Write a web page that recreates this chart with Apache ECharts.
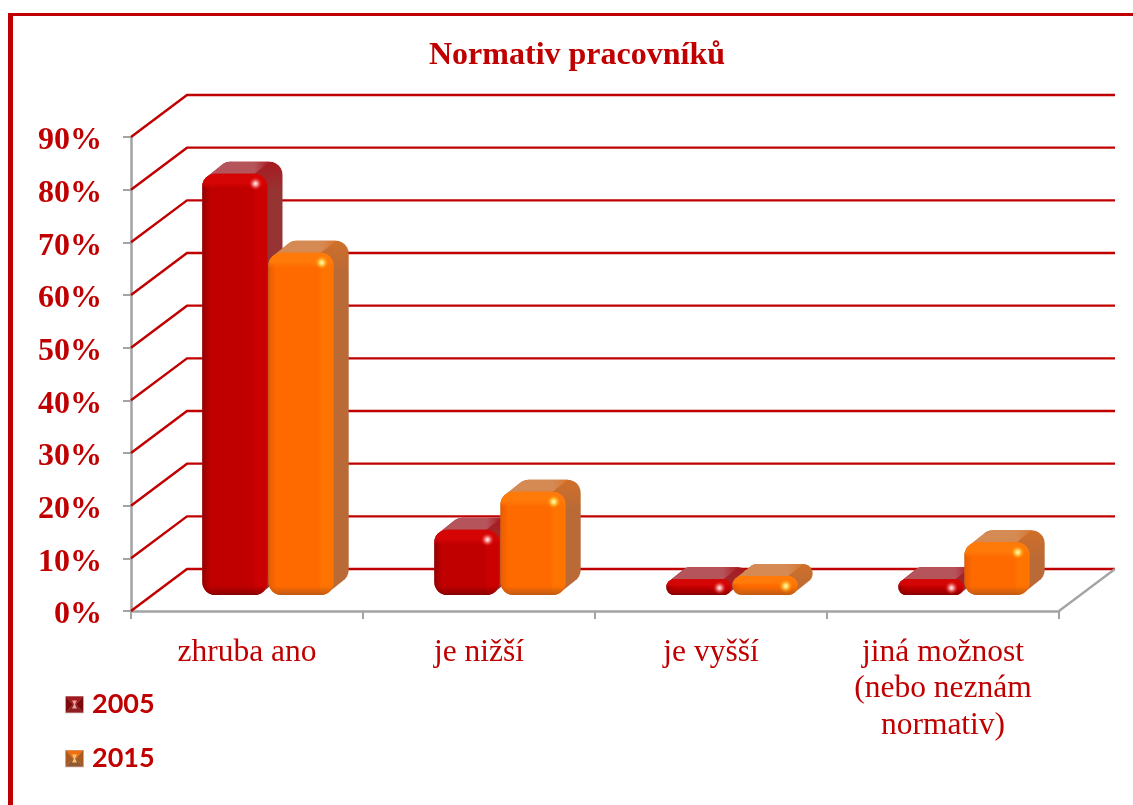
<!DOCTYPE html>
<html lang="cs">
<head>
<meta charset="utf-8">
<title>Normativ pracovníků</title>
<style>html,body{margin:0;padding:0;background:#fff}#chart{width:1133px;height:805px}</style>
<script src="https://cdn.jsdelivr.net/npm/echarts@6/dist/echarts.min.js"></script>
</head>
<body>
<div id="chart"></div>
<script>
const categories = ['zhruba ano', 'je nižší', 'je vyšší', 'jiná možnost\n(nebo neznám\nnormativ)'];
const seriesNames = ['2005', '2015'];
const values2005 = [80, 12.4, 3, 3];
const values2015 = [65, 19.6, 3.6, 10];
const wallTicks = [0, 10, 20, 30, 40, 50, 60, 70, 80, 90];

const RED = '#c00000';
const GREY = '#a3a3a3';
const WALL = [56, -42];
const BAR_SHIFT = [21, -16];
const BAR_DEPTH = [15, -12];
const BAR_FRACTION = 0.281;
const RADIUS = 13;

const palettes = [
  { edge: '#960000', base: '#c00000', rim: '#cb0000', topBand: '#d60505', bottom: '#8a0000',
    top: '#b5545a', topEnd: '#a81c22', side: '#963434', sideTop: '#a81a20', glow: '#ffffff', glowMid: 'rgba(255,170,170,0.8)', glowEnd: 'rgba(220,0,0,0)' },
  { edge: '#e85c00', base: '#ff6a00', rim: '#ff7300', topBand: '#ff7a08', bottom: '#c05a14',
    top: '#d58a54', topEnd: '#d9762f', side: '#ba6a36', sideTop: '#cf6f2a', glow: '#fffbd0', glowMid: 'rgba(255,225,90,0.85)', glowEnd: 'rgba(255,130,0,0)' }
];

function roundedPoints(x, y, w, h, r) {
  const pts = [];
  const corners = [[x + r, y + r, 180], [x + w - r, y + r, 270], [x + w - r, y + h - r, 0], [x + r, y + h - r, 90]];
  corners.forEach(function (c) {
    for (let a = 0; a <= 90; a += 15) {
      const t = (c[2] + a) * Math.PI / 180;
      pts.push([c[0] + r * Math.cos(t), c[1] + r * Math.sin(t)]);
    }
  });
  return pts;
}
function hull(points) {
  const p = points.slice().sort(function (a, b) { return a[0] - b[0] || a[1] - b[1]; });
  const cross = function (o, a, b) { return (a[0] - o[0]) * (b[1] - o[1]) - (a[1] - o[1]) * (b[0] - o[0]); };
  const lo = [], up = [];
  p.forEach(function (q) {
    while (lo.length > 1 && cross(lo[lo.length - 2], lo[lo.length - 1], q) <= 0) lo.pop();
    lo.push(q);
  });
  p.slice().reverse().forEach(function (q) {
    while (up.length > 1 && cross(up[up.length - 2], up[up.length - 1], q) <= 0) up.pop();
    up.push(q);
  });
  return lo.slice(0, -1).concat(up.slice(0, -1));
}
function linear(x, y, x2, y2, stops) {
  return new echarts.graphic.LinearGradient(x, y, x2, y2, stops.map(function (s) { return { offset: s[0], color: s[1] }; }));
}

function barRenderer(seriesIndex) {
  const pal = palettes[seriesIndex];
  return function (params, api) {
    const top = api.coord([api.value(0), api.value(1)]);
    const zero = api.coord([api.value(0), 0]);
    const band = api.size([1, 0])[0];
    const w = band * BAR_FRACTION;
    const x = top[0] + BAR_SHIFT[0] + (seriesIndex === 0 ? -w - 0.5 : 0.5);
    const y = top[1] + BAR_SHIFT[1];
    const h = zero[1] - top[1];
    const r = Math.min(RADIUS, h / 2);
    const dx = BAR_DEPTH[0], dy = BAR_DEPTH[1];
    const front = roundedPoints(x, y, w, h, r);
    const back = front.map(function (p) { return [p[0] + dx, p[1] + dy]; });
    const upperFront = front.filter(function (p) { return p[1] <= y + r && p[0] <= x + w - r; });
    const upperBack = upperFront.map(function (p) { return [p[0] + dx, p[1] + dy]; });
    const bandTop = Math.min(0.35, 9 / h);
    const bandFade = Math.min(0.5, 15 / h);
    const bandBottom = Math.max(0.55, 1 - 9 / h);
    return {
      type: 'group',
      children: [
        { type: 'polygon', shape: { points: hull(front.concat(back)) },
          style: { fill: linear(0, 0, 0, 1, [[0, pal.sideTop], [Math.min(1, 30 / (h + 12)), pal.side], [1, pal.side]]) } },
        { type: 'polygon', shape: { points: hull(upperFront.concat(upperBack)) },
          style: { fill: linear(0, 0, 1, 0, [[0, pal.top], [0.78, pal.top], [1, pal.topEnd]]) } },
        { type: 'rect', shape: { x: x, y: y, width: w, height: h, r: r },
          style: { fill: linear(0, 0, 1, 0, [[0, pal.edge], [0.12, pal.base], [0.77, pal.base], [0.81, pal.rim], [1, pal.rim]]) } },
        { type: 'rect', shape: { x: x, y: y, width: w, height: h, r: r },
          style: { fill: linear(0, 0, 0, 1, [
            [0, pal.topBand], [bandTop, pal.topBand], [bandFade, pal.topBand + '00'],
            [bandBottom, pal.bottom + '00'], [1, pal.bottom]]) } },
        { type: 'circle', shape: { cx: x + w - 12, cy: y + Math.min(10, h * 0.55), r: 7 },
          style: { fill: new echarts.graphic.RadialGradient(0.5, 0.5, 0.5, [
            { offset: 0, color: pal.glow }, { offset: 0.35, color: pal.glowMid }, { offset: 1, color: pal.glowEnd }]) } }
      ]
    };
  };
}

function wallRenderer(params, api) {
  const cs = params.coordSys;
  const y = api.coord([0, api.value(1)])[1];
  const left = cs.x, right = cs.x + cs.width;
  const children = [{
    type: 'polyline',
    shape: { points: [[left, y], [left + WALL[0], y + WALL[1]], [right + WALL[0], y + WALL[1]]] },
    style: { fill: 'none', stroke: RED, lineWidth: 2.4 }
  }];
  if (api.value(1) === 0) {
    children.push({
      type: 'line',
      shape: { x1: right, y1: y, x2: right + WALL[0], y2: y + WALL[1] },
      style: { stroke: GREY, lineWidth: 2.2 }
    });
  }
  return { type: 'group', children: children };
}

function swatch(light, main, dark, darker) {
  const svg = '<svg xmlns="http://www.w3.org/2000/svg" width="19" height="18" viewBox="0 0 19 18">' +
    '<rect width="19" height="18" fill="#c9a7a0"/>' +
    '<polygon points="1,1 18,1 11,9 8,9" fill="' + main + '"/>' +
    '<polygon points="1,1 8,9 1,17" fill="' + dark + '"/>' +
    '<polygon points="18,1 18,17 11,9" fill="' + dark + '"/>' +
    '<polygon points="1,17 18,17 11,9 8,9" fill="' + darker + '"/>' +
    '<polygon points="7,5 12,5 10,9 12,13 7,13 9,9" fill="' + light + '"/>' +
    '</svg>';
  return 'image://data:image/svg+xml;charset=utf-8,' + encodeURIComponent(svg);
}

const chart = echarts.init(document.getElementById('chart'), null, { renderer: 'canvas' });
const pair = function (vals) { return vals.map(function (v, i) { return [i, v]; }); };

chart.setOption({
  animation: false,
  backgroundColor: '#ffffff',
  title: {
    text: 'Normativ pracovníků',
    left: 572, top: 35, textAlign: 'center',
    textStyle: { fontFamily: 'Liberation Serif', fontWeight: 'bold', fontSize: 32, color: RED }
  },
  legend: {
    orient: 'vertical', left: 60, top: 686, itemWidth: 19, itemHeight: 18, itemGap: 27,
    selectedMode: false,
    data: [
      { name: seriesNames[0], icon: swatch('#e8a0a0', '#a01a1e', '#7c0a0c', '#8c1f22') },
      { name: seriesNames[1], icon: swatch('#ffc070', '#f07010', '#a85a20', '#8f5a30') }
    ],
    textStyle: { fontFamily: 'Lato', fontWeight: 'bold', fontSize: 27, color: RED, padding: [0, 0, 0, 3] }
  },
  grid: { left: 131, top: 137, width: 928, height: 474, containLabel: false },
  xAxis: {
    type: 'category', data: categories,
    axisLine: { show: true, lineStyle: { color: GREY, width: 2.5 } },
    axisTick: { show: true, length: 8, lineStyle: { color: GREY, width: 2 } },
    axisLabel: { interval: 0, margin: 23, fontFamily: 'Liberation Serif', fontSize: 31.5, color: RED, lineHeight: 36.5 },
    splitLine: { show: false }
  },
  yAxis: {
    type: 'value', min: 0, max: 90, interval: 10,
    axisLine: { show: true, lineStyle: { color: GREY, width: 2.5 } },
    axisTick: { show: true, length: 8, lineStyle: { color: GREY, width: 2 } },
    axisLabel: { margin: 29, verticalAlign: 'top', lineHeight: 8, formatter: '{value}%', fontFamily: 'Liberation Serif', fontWeight: 'bold', fontSize: 32, color: RED },
    splitLine: { show: false }
  },
  series: [
    { type: 'custom', name: 'wall', z: 1, clip: false, silent: true, renderItem: wallRenderer,
      encode: { x: 0, y: 1 }, data: wallTicks.map(function (v) { return [0, v]; }) },
    { type: 'custom', name: seriesNames[0], z: 3, clip: false, renderItem: barRenderer(0),
      itemStyle: { color: '#c00000' }, encode: { x: 0, y: 1 }, data: pair(values2005) },
    { type: 'custom', name: seriesNames[1], z: 4, clip: false, renderItem: barRenderer(1),
      itemStyle: { color: '#ff6a00' }, encode: { x: 0, y: 1 }, data: pair(values2015) }
  ],
  graphic: [
    { type: 'rect', silent: true, z: 10, shape: { x: 8, y: 13, width: 1125, height: 3 }, style: { fill: RED } },
    { type: 'rect', silent: true, z: 10, shape: { x: 8, y: 13, width: 5, height: 792 }, style: { fill: RED } }
  ]
});
</script>
</body>
</html>
